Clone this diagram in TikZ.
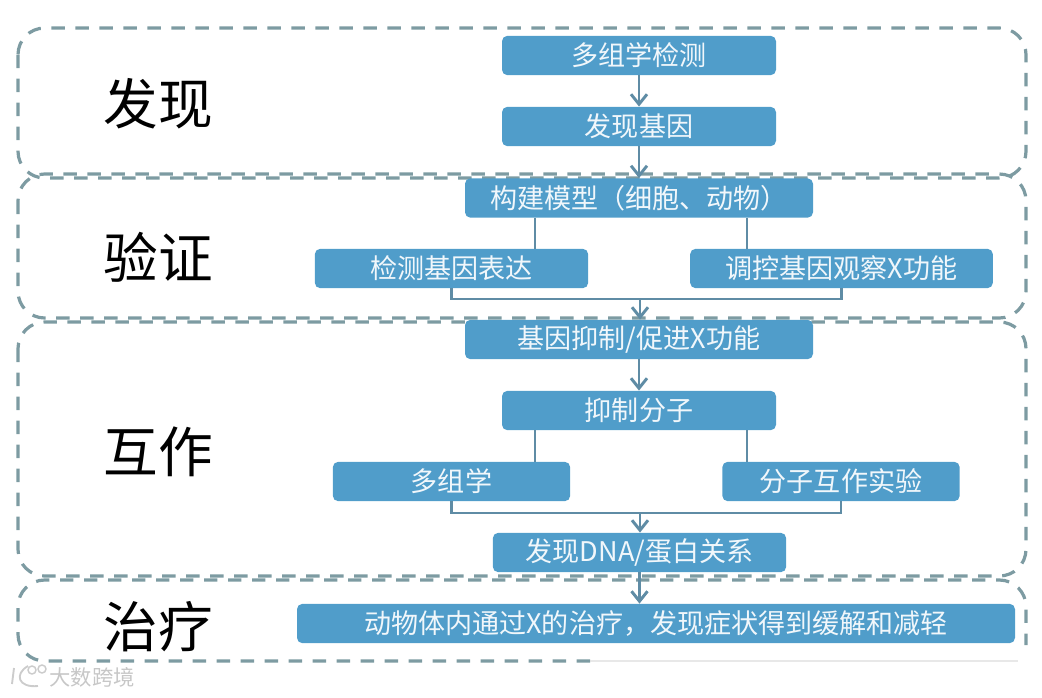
\documentclass[tikz,border=0pt]{standalone}
\usepackage{fontspec}
\setmainfont{Noto Sans CJK SC}
\usetikzlibrary{arrows.meta}
\definecolor{myblue}{RGB}{80,157,202}
\definecolor{mygrey}{RGB}{125,155,162}
\definecolor{mylink}{RGB}{95,140,165}
\tikzset{
 region/.style={draw=mygrey, line width=2.4pt, dash pattern=on 10pt off 8pt, rounded corners=20pt},
 stepbox/.style={fill=myblue, rounded corners=4pt, inner sep=0pt, minimum height=29.5pt, text=white!92!myblue, font=\fontsize{20.3}{24}\selectfont},
 heading/.style={inner sep=0pt, font=\fontsize{41}{48}\selectfont},
 link/.style={draw=mylink, line width=2.2pt},
 flow/.style={link, -{Straight Barb[length=7.5pt,width=12pt,line width=2.2pt]}},
 mark text/.style={inner sep=0pt, text=black!22, font=\fontsize{16}{20}\selectfont},
}
\begin{document}
\begin{tikzpicture}[x=0.75pt, y=-0.75pt]
 \useasboundingbox (0,0) rectangle (1042,697);
 %regions:
 \draw[region] (18,28) rectangle (1026,178);
 \draw[region] (18,174) rectangle (1026,318);
 \draw[region] (18,322) rectangle (1026,576);
 \draw[region] (590,661) -- (18,661) -- (18,580) -- (1026,580) -- (1026,645);
 \draw[black!15, line width=2pt, opacity=0.6] (590,661) -- (1018,661);

 %headings:
 \node[heading] (h1) at (158,104) {发现};
 \node[heading] (h2) at (158,257) {验证};
 \node[heading] (h3) at (158,452) {互作};
 \node[heading] (h4) at (158,627) {治疗};

 %boxes:
 \node[stepbox, minimum width=205.5pt] (a) at (639,55.5) {多组学检测};
 \node[stepbox, minimum width=205.5pt] (b) at (639,126.5) {发现基因};
 \node[stepbox, minimum width=261pt] (c) at (639,198) {构建模型（细胞、动物）};
 \node[stepbox, minimum width=205pt] (d) at (451.5,268.5) {检测基因表达};
 \node[stepbox, minimum width=227pt] (e) at (841.5,268.5) {调控基因观察X功能};
 \node[stepbox, minimum width=261pt] (f) at (639,339.5) {基因抑制/促进X功能};
 \node[stepbox, minimum width=205.5pt] (g) at (639,410.5) {抑制分子};
 \node[stepbox, minimum width=178pt] (h) at (451.5,481.5) {多组学};
 \node[stepbox, minimum width=178pt] (i) at (841,481.5) {分子互作实验};
 \node[stepbox, minimum width=220pt] (j) at (639.5,552.5) {发现DNA/蛋白关系};
 \node[stepbox, minimum width=538.5pt] (k) at (656,623.5) {动物体内通过X的治疗，发现症状得到缓解和减轻};

 %connectors:
 \coordinate (left) at (535,0);
 \coordinate (right) at (747,0);
 \coordinate (dmid) at (640,299);
 \coordinate (hmid) at (640,513);
 \draw[flow] (a) -- (b);
 \draw[flow] (b) -- (c);
 \draw[link] (left |- c.south) -- (left |- d.north);
 \draw[link] (right |- c.south) -- (right |- e.north);
 \draw[link] (d.south) |- (dmid) -| (e.south);
 \draw[flow] (dmid) -- (dmid |- f.north);
 \draw[flow] (f) -- (g);
 \draw[link] (left |- g.south) -- (left |- h.north);
 \draw[link] (right |- g.south) -- (right |- i.north);
 \draw[link] (h.south) |- (hmid) -| (i.south);
 \draw[flow] (hmid) -- (hmid |- j.north);
 \draw[flow] (j.south) -- (j.south |- k.north);

 %watermark:
 \draw[black!20, line width=1.4pt] (14,668) -- (12,684) (28,666) .. controls (14,674) and (18,688) .. (38,686);
 \draw[black!20, line width=1.1pt] (32,670) circle (4) (42,669) circle (4);
 \node[mark text] (wm) at (92,677) {大数跨境};
\end{tikzpicture}
\end{document}
